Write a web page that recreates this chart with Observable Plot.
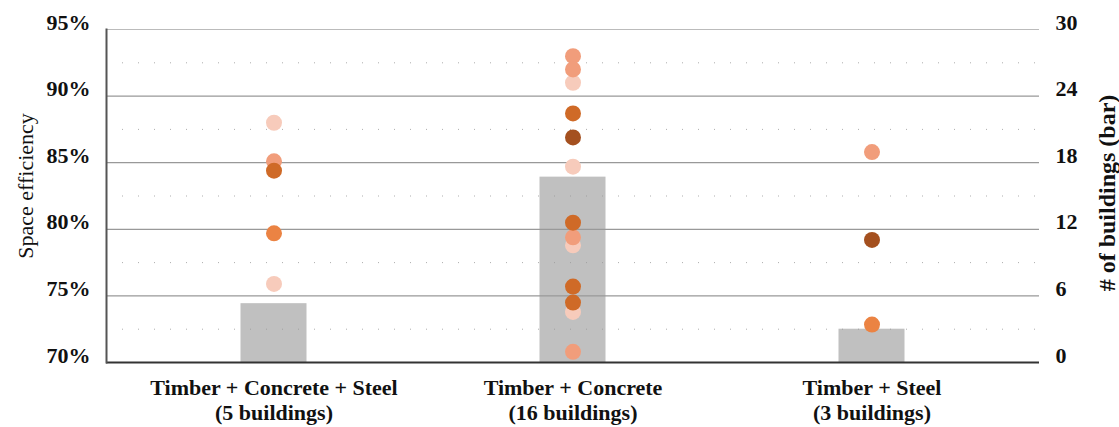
<!DOCTYPE html>
<html><head><meta charset="utf-8">
<script src="https://cdn.jsdelivr.net/npm/d3@7"></script>
<script src="https://cdn.jsdelivr.net/npm/@observablehq/plot@0.6"></script>
<style>body{margin:0;background:#fff;}</style>
</head><body><div id="chart"></div>
<script>
// ---- data ----
const categories = [
  "Timber + Concrete + Steel\n(5 buildings)",
  "Timber + Concrete\n(16 buildings)",
  "Timber + Steel\n(3 buildings)"
];
const buildingCounts = [5.3, 16.7, 3.0];          // bars, right axis (# of buildings)
const pointCategory   = [0, 0, 0, 0, 0,
                         1, 1, 1, 1, 1, 1, 1, 1, 1, 1, 1, 1, 1,
                         2, 2, 2];
const pointEfficiency = [88.0, 85.1, 84.4, 79.7, 75.9,
                         93.0, 92.0, 91.0, 88.7, 86.9, 84.7, 80.5, 79.4, 78.8, 75.7, 74.5, 73.8, 70.8,
                         85.8, 79.2, 72.85];
const pointShade      = ["light", "salmon", "dark", "orange", "light",
                         "salmon", "salmon", "light", "dark", "brown", "light", "dark", "salmon", "light", "dark", "dark", "light", "salmon",
                         "salmon", "brown", "orange"];
const shadeLevels = ["light", "salmon", "orange", "dark", "brown"];
const leftTicks  = [70, 75, 80, 85, 90, 95];
const minorTicks = [72.5, 77.5, 82.5, 87.5, 92.5];
const rightTicks = [0, 6, 12, 18, 24, 30];

// ---- build ----
const toLeft = n => 70 + n * (25 / 30);
const rows = pointEfficiency.map((v, i) => ({cat: categories[pointCategory[i]], eff: v, shade: pointShade[i]}));
const bars = categories.map((c, i) => ({cat: c, count: buildingCounts[i]}));
const font = "'Liberation Serif', 'Times New Roman', serif";

const chart = Plot.plot({
  width: 1119,
  height: 427,
  marginTop: 29,
  marginBottom: 65,
  marginLeft: 106,
  marginRight: 80,
  style: {fontFamily: font, background: "#fff", color: "#111"},
  x: {domain: categories, paddingInner: 0, paddingOuter: 0.06, axis: null},
  y: {domain: [70, 95], axis: null},
  color: {domain: shadeLevels, range: ["#f7cbbb", "#f19d7b", "#eb8343", "#cf6a27", "#a4501f"]},
  marks: [
    Plot.barY(bars, {x: "cat", y1: 70, y2: d => toLeft(d.count), fill: "#c0c0c0", insetLeft: 116.5, insetRight: 116.5}),
    Plot.ruleY(minorTicks, {stroke: "#999", strokeDasharray: "1 15", strokeWidth: 1, strokeOpacity: 0.8}),
    Plot.ruleY(leftTicks.filter(d => d > 70 && d < 95), {stroke: "#999", strokeWidth: 1.2}),
    Plot.ruleY([95], {stroke: "#bbb", strokeWidth: 1.2}),
    Plot.ruleY([70], {stroke: "#333", strokeWidth: 2}),
    Plot.frame({anchor: "left", stroke: "#555", strokeWidth: 2}),
    Plot.dot(rows, {x: "cat", y: "eff", r: 8, fill: "shade", stroke: null,
      sort: (a, b) => shadeLevels.indexOf(a.shade) - shadeLevels.indexOf(b.shade)}),
    Plot.axisX({tickSize: 0, tickPadding: 15, fontSize: 22, fontWeight: "bold", lineHeight: 1.12, label: null}),
    Plot.axisY(leftTicks, {anchor: "left", tickSize: 0, tickPadding: 16, dy: -7, fontSize: 22, fontWeight: "bold",
      tickFormat: d => d + "%", label: null}),
    Plot.axisY(rightTicks.map(toLeft), {anchor: "right", tickSize: 0, tickPadding: 16, dy: -7, fontSize: 22, fontWeight: "bold",
      tickFormat: d => String(Math.round((d - 70) * 30 / 25)), label: null}),
    Plot.text(["Space efficiency"], {frameAnchor: "left", textAnchor: "middle", rotate: -90, dx: -81, dy: -10, fontSize: 22, fill: "#111"}),
    Plot.text(["# of buildings (bar)"], {frameAnchor: "right", textAnchor: "middle", rotate: -90, dx: 68, dy: -3, fontSize: 24, fontWeight: "bold", fill: "#111"})
  ]
});
document.getElementById("chart").append(chart);
</script>
</body></html>
